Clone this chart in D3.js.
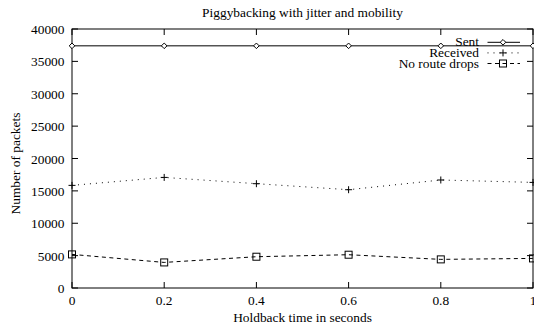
<!DOCTYPE html>
<html>
<head>
<meta charset="utf-8">
<script src="https://cdn.jsdelivr.net/npm/d3@7"></script>
<style>
  html, body { margin: 0; padding: 0; background: #fff; }
  svg { display: block; }
</style>
</head>
<body>
<svg id="chart" width="534" height="329"></svg>
<script>
// Holdback time (s) on the x axis
const holdback = [0, 0.2, 0.4, 0.6, 0.8, 1.0];
// Packet counts per series
const sent = [37400, 37400, 37400, 37400, 37400, 37400];
const received = [15850, 17080, 16110, 15180, 16680, 16310];
const noRouteDrops = [5190, 3950, 4830, 5140, 4420, 4570];
// Tick values
const xTicks = [0, 0.2, 0.4, 0.6, 0.8, 1];
const xTickLabels = ["0", "0.2", "0.4", "0.6", "0.8", "1"];
const yTicks = [0, 5000, 10000, 15000, 20000, 25000, 30000, 35000, 40000];
const seriesNames = ["Sent", "Received", "No route drops"];

const FONT = "'Liberation Serif', 'Times New Roman', serif";

const svg = d3.select("#chart").attr("font-family", FONT);
const margin = { left: 72, right: 1, top: 29, bottom: 41 };
const W = 534, H = 329;

const x = d3.scaleLinear().domain([0, 1]).range([margin.left, W - margin.right]);
const y = d3.scaleLinear().domain([0, 40000]).range([H - margin.bottom, margin.top]);

const fs = 13.4;
const tickLen = 6;

// Frame
svg.append("rect")
  .attr("x", x(0)).attr("y", y(40000))
  .attr("width", x(1) - x(0)).attr("height", y(0) - y(40000))
  .attr("fill", "none").attr("stroke", "#000").attr("stroke-width", 1);

// Inward ticks on all four sides
const g = svg.append("g").attr("stroke", "#000").attr("stroke-width", 1);
xTicks.forEach(v => {
  g.append("line").attr("x1", x(v)).attr("x2", x(v)).attr("y1", y(0)).attr("y2", y(0) - tickLen);
  g.append("line").attr("x1", x(v)).attr("x2", x(v)).attr("y1", y(40000)).attr("y2", y(40000) + tickLen);
});
yTicks.forEach(v => {
  g.append("line").attr("x1", x(0)).attr("x2", x(0) + tickLen).attr("y1", y(v)).attr("y2", y(v));
  g.append("line").attr("x1", x(1)).attr("x2", x(1) - tickLen).attr("y1", y(v)).attr("y2", y(v));
});

function label(xp, yp, txt, anchor) {
  return svg.append("text").attr("x", xp).attr("y", yp)
    .attr("text-anchor", anchor).attr("font-size", fs)
    .attr("font-family", FONT).attr("fill", "#000").text(txt);
}

// Tick labels
xTicks.forEach((v, i) => label(x(v), y(0) + 16.5, xTickLabels[i], "middle"));
yTicks.forEach(v => label(x(0) - 7.5, y(v) + 5, String(v), "end"));

// Titles
label((x(0) + x(1)) / 2, 16.5, "Piggybacking with jitter and mobility", "middle");
label((x(0) + x(1)) / 2, 321.5, "Holdback time in seconds", "middle");
label(0, 0, "Number of packets", "middle")
  .attr("transform", "translate(19.5,163.5) rotate(-90)");

// Marker drawers
function diamond(sel, cx, cy) {
  sel.append("path").attr("d", `M${cx},${cy - 2.8}L${cx + 2.8},${cy}L${cx},${cy + 2.8}L${cx - 2.8},${cy}Z`)
    .attr("fill", "#fff").attr("stroke", "#000").attr("stroke-width", 1);
}
function plus(sel, cx, cy) {
  sel.append("path").attr("d", `M${cx - 3.5},${cy}H${cx + 3.5}M${cx},${cy - 3.5}V${cy + 3.5}`)
    .attr("fill", "none").attr("stroke", "#000").attr("stroke-width", 1);
}
function square(sel, cx, cy) {
  sel.append("rect").attr("x", cx - 3.5).attr("y", cy - 3.5).attr("width", 7).attr("height", 7)
    .attr("fill", "none").attr("stroke", "#000").attr("stroke-width", 1);
}

const series = [
  { name: seriesNames[0], values: sent, dash: null, marker: diamond },
  { name: seriesNames[1], values: received, dash: "1,5", marker: plus },
  { name: seriesNames[2], values: noRouteDrops, dash: "4,3.5", marker: square }
];

const line = d3.line().x(d => x(d[0])).y(d => y(d[1]));

series.forEach(s => {
  const pts = holdback.map((h, i) => [h, s.values[i]]);
  svg.append("path").datum(pts).attr("d", line)
    .attr("fill", "none").attr("stroke", "#000").attr("stroke-width", 1)
    .attr("stroke-dasharray", s.dash);
  const mg = svg.append("g");
  pts.forEach(p => s.marker(mg, x(p[0]), y(p[1])));
});

// Legend
const legX = 479, legY0 = 42.3, legDy = 10.6;
series.forEach((s, i) => {
  const ly = legY0 + i * legDy;
  label(legX, ly + 4, s.name, "end");
  svg.append("line").attr("x1", legX + 8.5).attr("x2", legX + 41).attr("y1", ly).attr("y2", ly)
    .attr("stroke", "#000").attr("stroke-width", 1).attr("stroke-dasharray", s.dash);
  const mg = svg.append("g");
  s.marker(mg, legX + 24, ly);
});
</script>
</body>
</html>
